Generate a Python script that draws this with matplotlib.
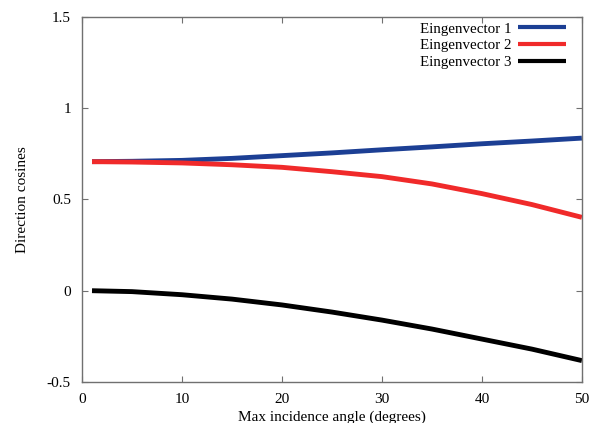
import matplotlib
matplotlib.use('Agg')
import matplotlib.pyplot as plt

plt.rcParams['font.family'] = ['Liberation Serif', 'DejaVu Serif']

# max incidence angle (degrees)
angle = [1, 5, 10, 15, 20, 25, 30, 35, 40, 45, 50]

# direction cosines of the three eigenvectors
eig1 = [0.707, 0.709, 0.714, 0.725, 0.740, 0.755, 0.772, 0.788, 0.805, 0.820, 0.836]
eig2 = [0.707, 0.705, 0.700, 0.690, 0.676, 0.652, 0.625, 0.585, 0.532, 0.472, 0.402]
eig3 = [0.000, -0.005, -0.022, -0.046, -0.078, -0.117, -0.161, -0.210, -0.265, -0.320, -0.383]

labels = ['Eingenvector 1', 'Eingenvector 2', 'Eingenvector 3']
colors = ['#1c3f94', '#f02a2a', '#000000']

fig = plt.figure(figsize=(6.03, 4.23), dpi=100)
ax = fig.add_axes([0.136, 0.097, 0.829, 0.863])

for y, lab, c in zip([eig1, eig2, eig3], labels, colors):
    ax.plot(angle, y, color=c, lw=3.5, label=lab, solid_capstyle='butt')

ax.set_xlim(0, 50)
ax.set_ylim(-0.5, 1.5)
ax.set_xticks([0, 10, 20, 30, 40, 50])
ax.set_yticks([-0.5, 0, 0.5, 1, 1.5])
ax.set_yticklabels(['-0.5', '0', '0.5', '1', '1.5'])

for sp in ax.spines.values():
    sp.set_color('#707070')
    sp.set_linewidth(1.0)
ax.tick_params(direction='in', length=4, width=0.8, color='#707070',
               top=True, right=True, labelsize=11, pad=8)

ax.set_xlabel('Max incidence angle (degrees)', fontsize=11, labelpad=3.5)
ax.set_ylabel('Direction cosines', fontsize=11, labelpad=13)

leg = ax.legend(loc='upper right', bbox_to_anchor=(0.968, 0.986), frameon=False,
                markerfirst=False, fontsize=10.8, handlelength=3.2,
                handletextpad=0.4, labelspacing=0.22, borderpad=0,
                borderaxespad=0)
for h in leg.get_lines():
    h.set_linewidth(3.0)

plt.savefig('out.png', dpi=100)
